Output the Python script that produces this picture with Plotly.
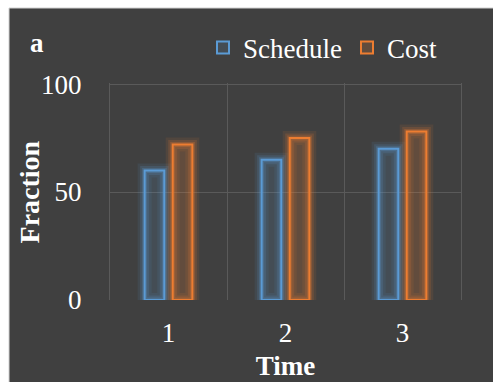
import plotly.graph_objects as go

# Data
times = [1, 2, 3]
schedule = [60, 65, 70]
cost = [72, 75, 78]
y_ticks = [0, 50, 100]

BLUE = "#5B9BD5"
ORANGE = "#ED7D31"
BG = "#404040"
GRID = "#5a5a5a"
FONT = "Liberation Serif, Times New Roman, serif"
FS = 27

fig = go.Figure()

# soft glow drawn beneath each bar outline
for name, vals, rgb in [("s", schedule, (91, 155, 213)), ("c", cost, (237, 125, 49))]:
    for w, a in [(14, 0.10), (9, 0.16), (5, 0.25)]:
        fig.add_trace(go.Bar(
            x=times, y=vals, offsetgroup=name, showlegend=False, hoverinfo="skip",
            marker=dict(color="rgba(0,0,0,0)",
                        line=dict(color=f"rgba({rgb[0]},{rgb[1]},{rgb[2]},{a})", width=w)),
        ))

fig.add_trace(go.Bar(
    x=times, y=schedule, name="Schedule", offsetgroup="s",
    marker=dict(color="rgba(91,155,213,0.14)", line=dict(color=BLUE, width=2)),
))
fig.add_trace(go.Bar(
    x=times, y=cost, name="Cost", offsetgroup="c",
    marker=dict(color="rgba(237,125,49,0.20)", line=dict(color=ORANGE, width=2)),
))

# dark panel with a light frame
fig.add_shape(type="rect", xref="paper", yref="paper",
              x0=-0.2877, x1=1.2, y0=-0.5, y1=1.3456,
              fillcolor=BG, line=dict(color="#d0d0d0", width=1), layer="below")

fig.add_annotation(text="<b>a</b>", xref="paper", yref="paper", x=-0.208, y=1.184,
                   xanchor="center", yanchor="middle",
                   showarrow=False, font=dict(family=FONT, size=FS, color="white"))

# y-axis title
fig.add_annotation(text="<b>Fraction</b>", xref="paper", yref="paper", x=-0.228, y=0.5,
                   xanchor="center", yanchor="middle", textangle=-90,
                   showarrow=False, font=dict(family=FONT, size=28, color="white"))

fig.update_layout(
    width=493, height=382,
    margin=dict(l=110, r=32, t=83, b=82, autoexpand=False),
    paper_bgcolor="white", plot_bgcolor="rgba(0,0,0,0)",
    barmode="group", bargap=0.52, bargroupgap=0.3,
    font=dict(family=FONT, size=FS, color="white"),
    legend=dict(orientation="h", x=0.265, y=1.161, xanchor="left", yanchor="middle",
                bgcolor="rgba(0,0,0,0)", font=dict(family=FONT, size=FS, color="white"),
                itemwidth=30),
    showlegend=True,
)

fig.update_xaxes(
    range=[0.5, 3.5], tickvals=times, ticktext=[str(t) for t in times],
    showgrid=False, zeroline=False, showline=False, ticks="",
    ticklabelstandoff=14,
    minor=dict(tickvals=[1.5, 2.5], showgrid=True, gridcolor=GRID, gridwidth=1),
    title=dict(text="<b>Time</b>", font=dict(family=FONT, size=FS, color="white"), standoff=9),
    tickfont=dict(family=FONT, size=FS, color="white"),
)
fig.update_yaxes(
    range=[0, 100.5], tickvals=y_ticks, ticktext=[str(v) for v in y_ticks],
    showgrid=False, zeroline=False, ticks="",
    showline=True, mirror=True, linecolor=GRID, linewidth=1,
    ticklabelstandoff=22,
    minor=dict(tickvals=[50, 100], showgrid=True, gridcolor=GRID, gridwidth=1),
    tickfont=dict(family=FONT, size=FS, color="white"),
)

fig.write_html("out.html")
